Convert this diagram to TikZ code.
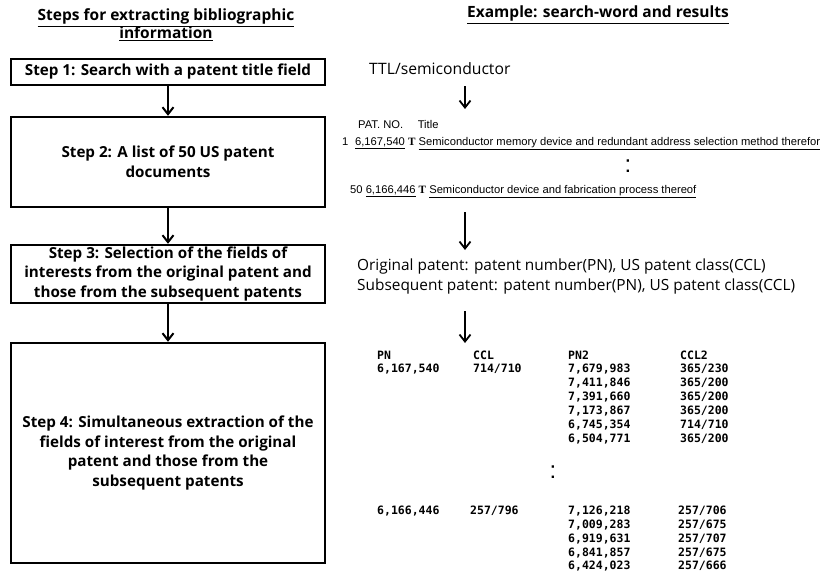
\documentclass[tikz,border=0pt]{standalone}
\usepackage{fontspec}
\setmainfont{Open Sans}
\newfontfamily\mgb{Open Sans}
\newfontfamily\mgr{Open Sans}
\newfontfamily\arl{Liberation Sans}
\newfontfamily\tms{Liberation Serif}
\newfontfamily\monob{DejaVu Sans Mono}
\usetikzlibrary{arrows.meta}
\begin{document}
\begin{tikzpicture}[x=1pt,y=-1pt,
  stepbox/.style={draw, line width=2.4pt, minimum width=314pt, align=center, inner sep=0pt,
    font=\mgb\bfseries\fontsize{15.2}{19.5}\selectfont},
  titletxt/.style={inner sep=0pt, align=center, font=\mgb\bfseries\fontsize{15.5}{18}\selectfont},
  flowarrow/.style={line width=2pt, -{Straight Barb[length=7pt,width=11pt,line width=2pt]}},
  exarrow/.style={line width=1.8pt, -{Straight Barb[length=7pt,width=11pt,line width=1.8pt]}},
  listtxt/.style={inner sep=0pt, anchor=mid west, font=\arl\fontsize{11.2}{13}\selectfont},
  midtxt/.style={inner sep=0pt, anchor=mid west, font=\mgr\fontsize{15.4}{17}\selectfont},
  tab/.style={inner sep=0pt, anchor=mid west, font=\monob\bfseries\fontsize{11.5}{13}\selectfont},
  dots/.style={inner sep=0pt, anchor=mid, font=\arl\fontsize{24}{26}\selectfont}
]
\useasboundingbox (0,0) rectangle (822,573);
% titles
\node[titletxt] (tl) at (166,25) {\underline{Steps for extracting bibliographic}\\\underline{information}};
\node[titletxt, anchor=mid] (tr) at (598,15) {\underline{Example: search-word and results}};
% step boxes
\node[stepbox, minimum height=26pt] (s1) at (168,72) {Step 1: Search with a patent title field};
\node[stepbox, minimum height=90pt] (s2) at (168,162) {Step 2: A list of 50 US patent\\documents};
\node[stepbox, minimum height=58pt] (s3) at (168,274) {Step 3: Selection of the fields of\\interests from the original patent and\\those from the subsequent patents};
\node[stepbox, minimum height=220pt] (s4) at (168,453) {Step 4: Simultaneous extraction of the\\fields of interest from the original\\patent and those from the\\subsequent patents};
\draw[flowarrow] (s1) -- (s2);
\draw[flowarrow] (s2) -- (s3);
\draw[flowarrow] (s3) -- (s4);
% right side
\node[inner sep=0pt, anchor=mid west, font=\mgr\fontsize{15.7}{19}\selectfont] (ttl) at (369,72) {TTL/semiconductor};
\coordinate (a1s) at (465,86);
\coordinate (a1e) at (465,109);
\draw[exarrow] (a1s) -- (a1e);
\node[listtxt] (hd) at (358,126) {PAT. NO.\hspace{1.3em}Title};
\node[listtxt] (r1) at (342,143) {1\hspace{0.6em}\underline{6,167,540} {\tms\bfseries T} \underline{Semiconductor memory device and redundant address selection method therefor}};
\node[dots] (c1) at (628,170) {:};
\node[listtxt] (r50) at (350,191) {50 \underline{6,166,446} {\tms\bfseries T} \underline{Semiconductor device and fabrication process thereof}};
\coordinate (a2s) at (465,212);
\coordinate (a2e) at (465,250);
\draw[exarrow] (a2s) -- (a2e);
\node[midtxt] (orig) at (357,268) {Original patent: patent number(PN), US patent class(CCL)};
\node[midtxt] (subs) at (357,288) {Subsequent patent: patent number(PN), US patent class(CCL)};
\coordinate (a3s) at (465,311);
\coordinate (a3e) at (465,343);
\draw[exarrow] (a3s) -- (a3e);
% table block 1
\node[tab] (h1) at (377,357) {PN};
\node[tab] (h2) at (473,357) {CCL};
\node[tab] (h3) at (568,357) {PN2};
\node[tab] (h4) at (680,357) {CCL2};
\node[tab] (p1) at (377,370) {6,167,540};
\node[tab] (c1a) at (473,370) {714/710};
\node[tab] (q1) at (568,370) {7,679,983};
\node[tab] (d1) at (680,370) {365/230};
\node[tab] (q2) at (568,384) {7,411,846};
\node[tab] (d2) at (680,384) {365/200};
\node[tab] (q3) at (568,398) {7,391,660};
\node[tab] (d3) at (680,398) {365/200};
\node[tab] (q4) at (568,412) {7,173,867};
\node[tab] (d4) at (680,412) {365/200};
\node[tab] (q5) at (568,426) {6,745,354};
\node[tab] (d5) at (680,426) {714/710};
\node[tab] (q6) at (568,440) {6,504,771};
\node[tab] (d6) at (680,440) {365/200};
\node[dots] (c2) at (553,476) {:};
% table block 2
\node[tab] (p2) at (377,512) {6,166,446};
\node[tab] (c2a) at (470,512) {257/796};
\node[tab] (u1) at (568,512) {7,126,218};
\node[tab] (e1) at (678,512) {257/706};
\node[tab] (u2) at (568,526) {7,009,283};
\node[tab] (e2) at (678,526) {257/675};
\node[tab] (u3) at (568,540) {6,919,631};
\node[tab] (e3) at (678,540) {257/707};
\node[tab] (u4) at (568,554) {6,841,857};
\node[tab] (e4) at (678,554) {257/675};
\node[tab] (u5) at (568,567) {6,424,023};
\node[tab] (e5) at (678,567) {257/666};
\end{tikzpicture}
\end{document}
